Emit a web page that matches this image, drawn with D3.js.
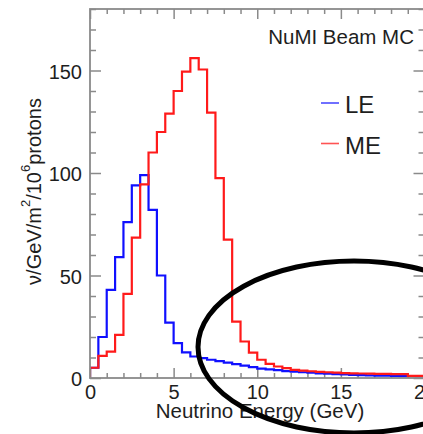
<!DOCTYPE html>
<html>
<head>
<meta charset="utf-8">
<script src="https://cdn.jsdelivr.net/npm/d3@7/dist/d3.min.js"></script>
<style>
  html, body { margin: 0; padding: 0; background: #fff; }
  svg { display: block; }
  text { font-family: "Liberation Sans", Arial, Helvetica, sans-serif; fill: #1e1e1e; }
</style>
</head>
<body>
<svg id="chart" width="423" height="434"></svg>
<script>
// NuMI beam neutrino flux (nu / GeV / m^2 / 10^6 protons), 0.5 GeV bins from 0 to 20 GeV
const binWidth = 0.5;
const leFlux = [5, 20, 43, 59, 76, 94, 99, 82, 50, 27, 17, 12.5, 10.5, 9.7, 8.9, 8.2, 7.5, 6.8, 6.0, 5.3,
                4.6, 4.2, 3.8, 3.4, 3.1, 2.8, 2.6, 2.3, 2.1, 1.9, 1.7, 1.5, 1.4, 1.3, 1.2, 1.1, 1.0, 0.9, 0.9, 0.8];
const meFlux = [5, 10.8, 12.9, 21, 41, 68.5, 94.5, 110, 120, 129, 140, 149.5, 156, 150.5, 129.5, 97.5, 67.5, 27.5, 17.8, 12.4,
                8.9, 6.9, 5.6, 4.8, 4.0, 3.6, 3.3, 3.0, 2.8, 2.6, 2.4, 2.3, 2.2, 2.1, 2.0, 2.0, 1.9, 1.9, 1.0, 1.0];
const seriesNames = ["LE", "ME"];
const seriesColors = ["#1010ff", "#ff1a1a"];
const xMajorTicks = [0, 5, 10, 15, 20];
const yMajorTicks = [0, 50, 100, 150];
const xDomain = [0, 20];
const yDomain = [0, 180];

const svg = d3.select("#chart");
const frameL = 90, frameR = 424.5, frameT = 9, frameB = 378;

const x = d3.scaleLinear().domain(xDomain).range([frameL, frameR]);
const y = d3.scaleLinear().domain(yDomain).range([frameB, frameT]);

const axisColor = "#8a8a8a";

// minor / major ticks on all four sides (pointing into the frame)
const xMinor = d3.range(xDomain[0], xDomain[1] + 1e-9, 1);
const yMinor = d3.range(yDomain[0], yDomain[1] + 1e-9, 10);

function tickAxis(gen, translate, size, values) {
  const g = svg.append("g").attr("transform", translate)
    .call(gen.tickValues(values).tickSize(size).tickFormat(""));
  g.select(".domain").remove();
  g.selectAll(".tick line").attr("stroke", axisColor).attr("stroke-width", 1.5);
  return g;
}
// bottom
tickAxis(d3.axisBottom(x), `translate(0,${frameB})`, -5, xMinor.filter(v => v % 5 !== 0));
tickAxis(d3.axisBottom(x), `translate(0,${frameB})`, -10, xMajorTicks);
// top
tickAxis(d3.axisTop(x), `translate(0,${frameT})`, -5, xMinor.filter(v => v % 5 !== 0));
tickAxis(d3.axisTop(x), `translate(0,${frameT})`, -10, xMajorTicks);
// left
tickAxis(d3.axisLeft(y), `translate(${frameL},0)`, -6, yMinor.filter(v => v % 50 !== 0));
tickAxis(d3.axisLeft(y), `translate(${frameL},0)`, -11, yMajorTicks);
// right
tickAxis(d3.axisRight(y), `translate(${frameR},0)`, -6, yMinor.filter(v => v % 50 !== 0));
tickAxis(d3.axisRight(y), `translate(${frameR},0)`, -11, yMajorTicks);

// tick labels
const xLab = svg.append("g").attr("transform", `translate(0,${frameB})`)
  .call(d3.axisBottom(x).tickValues(xMajorTicks).tickSize(0).tickPadding(0).tickFormat(d3.format("d")));
xLab.select(".domain").remove();
xLab.selectAll("text").attr("font-size", 20).attr("dy", null).attr("y", 21)
  .attr("font-family", "Liberation Sans, Arial, sans-serif").attr("fill", "#1e1e1e");

const yLab = svg.append("g").attr("transform", `translate(${frameL},0)`)
  .call(d3.axisLeft(y).tickValues(yMajorTicks).tickSize(0).tickPadding(0).tickFormat(d3.format("d")));
yLab.select(".domain").remove();
yLab.selectAll("text").attr("font-size", 20).attr("dy", null).attr("x", -8).attr("y", 7.5)
  .attr("font-family", "Liberation Sans, Arial, sans-serif").attr("fill", "#1e1e1e");

// histograms
svg.append("defs").append("clipPath").attr("id", "plotClip")
  .append("rect").attr("x", frameL).attr("y", frameT).attr("width", frameR - frameL).attr("height", frameB - frameT);

const stepLine = d3.line()
  .x(d => x(d[0]))
  .y(d => y(d[1]))
  .curve(d3.curveStepAfter);

function histPoints(values) {
  const pts = [[0, 0]];
  values.forEach((v, i) => pts.push([i * binWidth, v]));
  pts.push([values.length * binWidth, values[values.length - 1]]);
  return pts;
}

const plot = svg.append("g").attr("clip-path", "url(#plotClip)");
[leFlux, meFlux].forEach((vals, i) => {
  plot.append("path")
    .attr("d", stepLine(histPoints(vals)))
    .attr("fill", "none")
    .attr("stroke", seriesColors[i])
    .attr("stroke-width", 2.2)
    .attr("stroke-linejoin", "miter");
});

// frame
svg.append("rect")
  .attr("x", frameL).attr("y", frameT)
  .attr("width", frameR - frameL).attr("height", frameB - frameT)
  .attr("fill", "none").attr("stroke", axisColor).attr("stroke-width", 1.8);

// axis titles
svg.append("text")
  .attr("x", 260).attr("y", 418)
  .attr("text-anchor", "middle").attr("font-size", 20.5)
  .text("Neutrino Energy (GeV)");

const yTitle = svg.append("text")
  .attr("transform", `translate(40.5,${(frameT + frameB) / 2 - 2}) rotate(-90)`)
  .attr("text-anchor", "middle").attr("font-size", 20);
yTitle.append("tspan").text("ν/GeV/m");
yTitle.append("tspan").attr("font-size", 13).attr("dy", -11).text("2");
yTitle.append("tspan").attr("dy", 11).text("/10");
yTitle.append("tspan").attr("font-size", 13).attr("dy", -11).text("6");
yTitle.append("tspan").attr("dy", 11).text("protons");

// label
svg.append("text")
  .attr("x", 414).attr("y", 44)
  .attr("text-anchor", "end").attr("font-size", 20.5)
  .text("NuMI Beam MC");

// legend
const legendY = [103, 143.5];
seriesNames.forEach((name, i) => {
  svg.append("line")
    .attr("x1", 321).attr("x2", 339)
    .attr("y1", legendY[i]).attr("y2", legendY[i])
    .attr("stroke", seriesColors[i]).attr("stroke-width", 1.6).attr("stroke-opacity", 0.75);
  svg.append("text")
    .attr("x", 345).attr("y", legendY[i] + 10)
    .attr("font-size", 24)
    .text(name);
});

// highlighted high-energy tail
svg.append("ellipse")
  .attr("cx", 354).attr("cy", 347)
  .attr("rx", 156).attr("ry", 86)
  .attr("fill", "none")
  .attr("stroke", "#000")
  .attr("stroke-width", 5);
</script>
</body>
</html>
